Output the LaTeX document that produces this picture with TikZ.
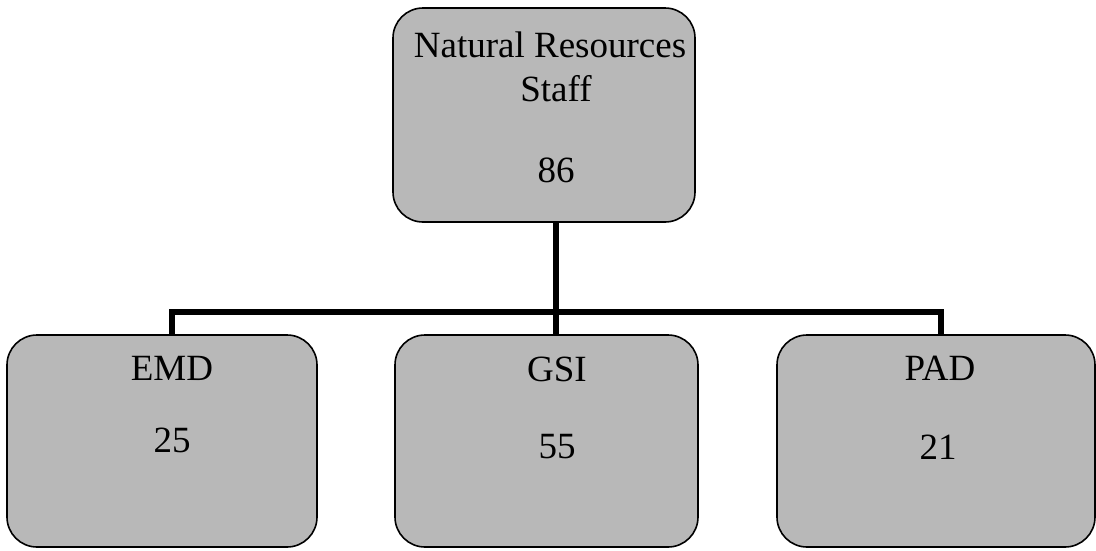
\documentclass[tikz,border=0pt]{standalone}
\usepackage{fontspec}
\setmainfont{Liberation Serif}
\begin{document}
\begin{tikzpicture}[x=1pt,y=-1pt,
  orgbox/.style={draw=black, line width=1.6pt, fill=boxgray, rounded corners=30pt, inner sep=0pt},
  lbl/.style={font=\fontsize{37}{42}\selectfont, inner sep=0pt, anchor=center},
  conn/.style={draw=black, line width=6pt}]
\definecolor{boxgray}{HTML}{B8B8B8}
\useasboundingbox (0,0) rectangle (1096,550);
% connectors
\coordinate (bar) at (556,312);
\coordinate (jL) at (172,312);
\coordinate (jR) at (941,312);
\draw[conn] (bar |- 0,215) -- (bar |- 0,340);
\draw[conn] (jL |- 0,340) -- (jL) -- (jR) -- (jR |- 0,340);
% boxes
\node[orgbox, minimum width=302pt, minimum height=214pt] (top) at (544,115) {};
\node[orgbox, minimum width=310pt, minimum height=212pt] (emd) at (162,441) {};
\node[orgbox, minimum width=303pt, minimum height=212pt] (gsi) at (546.5,441) {};
\node[orgbox, minimum width=318pt, minimum height=212pt] (pad) at (936,441) {};
% labels
\node[lbl] (t1) at (550,45) {Natural Resources};
\node[lbl] (t2) at (556,89) {Staff};
\node[lbl] (t3) at (556,170) {86};
\node[lbl] (e1) at (172,368) {EMD};
\node[lbl] (e2) at (172,440) {25};
\node[lbl] (g1) at (557,369) {GSI};
\node[lbl] (g2) at (557,447) {55};
\node[lbl] (p1) at (940,368) {PAD};
\node[lbl] (p2) at (938,447) {21};
\end{tikzpicture}
\end{document}
